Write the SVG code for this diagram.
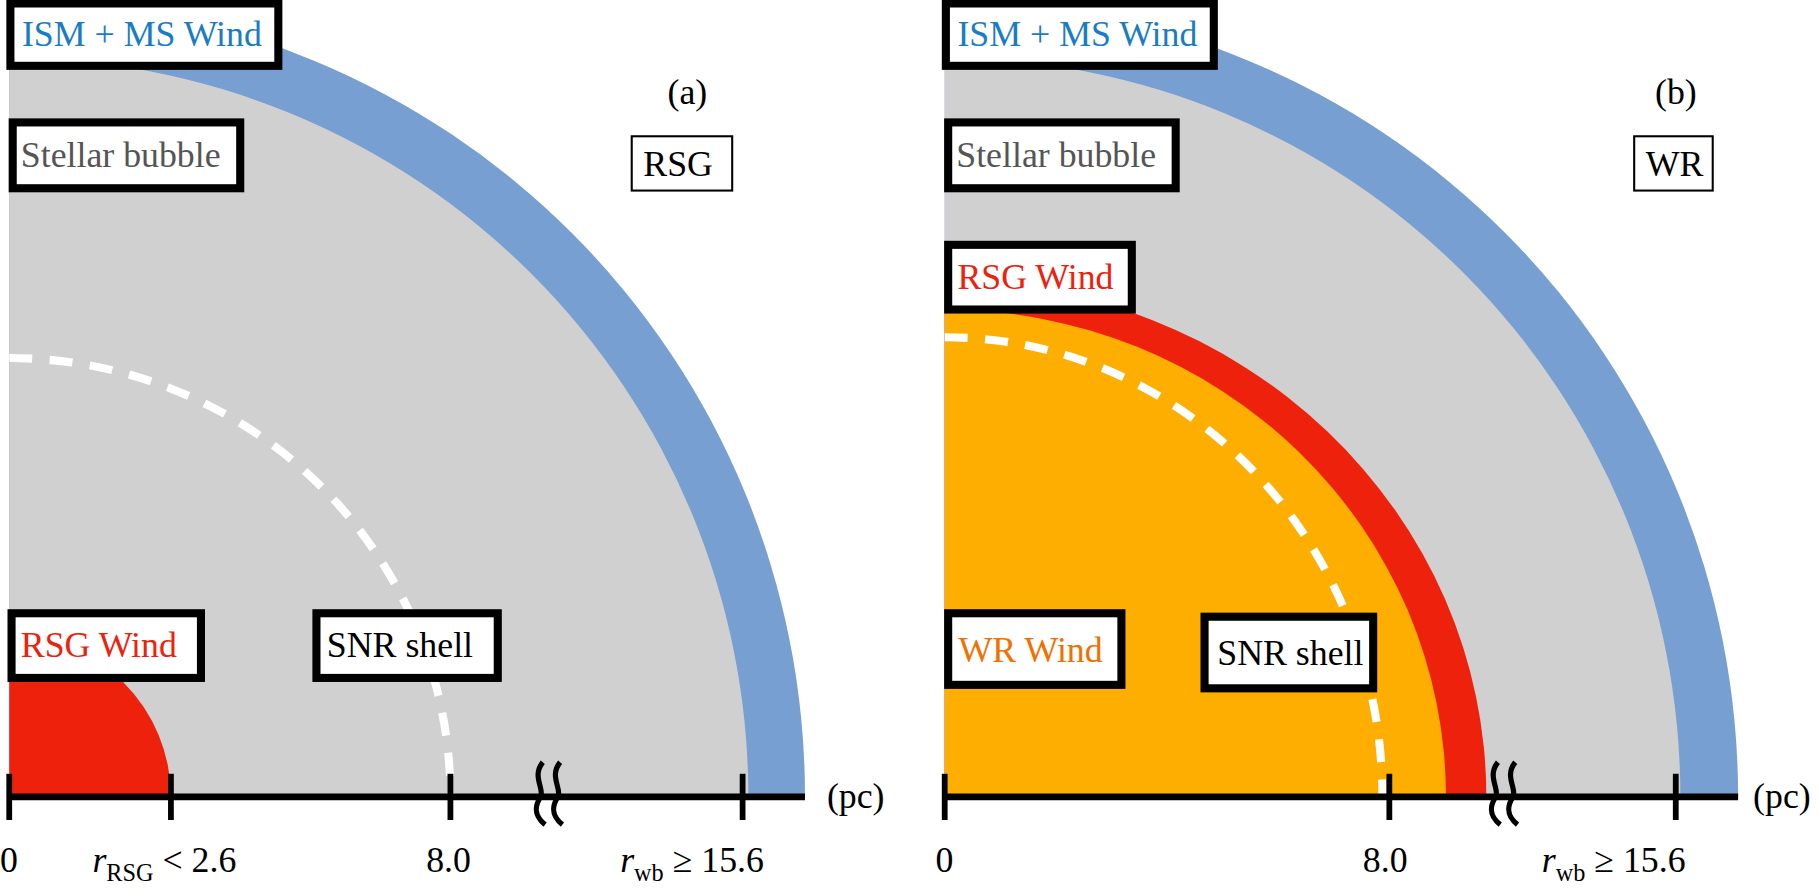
<svg xmlns="http://www.w3.org/2000/svg" width="1819" height="888" viewBox="0 0 1819 888">
<style>
text{font-family:"Liberation Serif",serif;font-size:31px;fill:#000}
.lb{fill:#fff;stroke:#000;stroke-width:7}
.thin{fill:#fff;stroke:#000;stroke-width:1.8}
.ax{stroke:#000;stroke-width:6;fill:none}
.tk{stroke:#000;stroke-width:5}
.dash{fill:none;stroke:#fff;stroke-width:7;stroke-dasharray:20 15}
.brk{fill:none;stroke:#000;stroke-width:4.5}
.sub{font-size:21px}
</style>
<rect width="1819" height="888" fill="#fff"/>
<g transform="scale(1.1549)">
<g id="panel-a">
<path d="M8 690 L8 0 A689 689 0 0 1 697 690 Z" fill="#779fd2"/>
<path d="M8 690 L8 50 A640 640 0 0 1 648 690 Z" fill="#d0d0d0"/>
<path d="M8 690 L8 550 A140 140 0 0 1 148 690 Z" fill="#ee210c"/>
<path class="dash" d="M8 310 A382 380 0 0 1 390 690"/>
</g>
<g id="panel-b">
<path d="M818 690 L818 0 A687 690 0 0 1 1505 690 Z" fill="#779fd2"/>
<path d="M818 690 L818 50 A637 640 0 0 1 1455 690 Z" fill="#d0d0d0"/>
<path d="M818 690 L818 243 A469 447 0 0 1 1287 690 Z" fill="#ee210c"/>
<path d="M818 690 L818 268 A434 422 0 0 1 1252 690 Z" fill="#fdae00"/>
<path class="dash" d="M818 292 A379 398 0 0 1 1197 690"/>
</g>
<g id="connectors">
<line class="ax" x1="8" y1="690" x2="697" y2="690"/>
<line class="tk" x1="8" y1="670" x2="8" y2="710"/>
<line class="tk" x1="148" y1="670" x2="148" y2="710"/>
<line class="tk" x1="390" y1="670" x2="390" y2="710"/>
<line class="tk" x1="643" y1="670" x2="643" y2="710"/>
<path class="brk" d="M470 660 C460 672 472 684 468 690 C463 698 462 706 472 714"/>
<path class="brk" d="M485 660 C475 672 487 684 483 690 C478 698 477 706 487 714"/>
<line class="ax" x1="818" y1="690" x2="1505" y2="690"/>
<line class="tk" x1="818" y1="670" x2="818" y2="710"/>
<line class="tk" x1="1203" y1="670" x2="1203" y2="710"/>
<line class="tk" x1="1451" y1="670" x2="1451" y2="710"/>
<path class="brk" d="M1297 660 C1287 672 1299 684 1295 690 C1290 698 1289 706 1299 714"/>
<path class="brk" d="M1312 660 C1302 672 1314 684 1310 690 C1305 698 1304 706 1314 714"/>
</g>
<g id="label-ism-a"><rect class="lb" x="9" y="3" width="232" height="54"/><text x="19" y="40" style="fill:#1a7cc4">ISM + MS Wind</text></g>
<g id="label-bubble-a"><rect class="lb" x="11" y="106" width="197" height="57"/><text x="18" y="145" style="fill:#555">Stellar bubble</text></g>
<g id="label-rsg-a"><rect class="thin" x="547" y="118" width="87" height="47"/><text x="557" y="152">RSG</text></g>
<text x="578" y="90">(a)</text>
<g id="label-rsgwind-a"><rect class="lb" x="10" y="531" width="164" height="56"/><text x="18" y="569" style="fill:#ee210c">RSG Wind</text></g>
<g id="label-snr-a"><rect class="lb" x="274" y="531" width="157" height="56"/><text x="283" y="569">SNR shell</text></g>
<g id="label-ism-b"><rect class="lb" x="819" y="3" width="232" height="54"/><text x="829" y="40" style="fill:#1a7cc4">ISM + MS Wind</text></g>
<g id="label-bubble-b"><rect class="lb" x="821" y="106" width="197" height="57"/><text x="828" y="145" style="fill:#555">Stellar bubble</text></g>
<g id="label-wr-b"><rect class="thin" x="1415" y="118" width="68" height="47"/><text x="1425" y="152">WR</text></g>
<text x="1433" y="90">(b)</text>
<g id="label-rsgwind-b"><rect class="lb" x="821" y="212" width="159" height="56"/><text x="829" y="250" style="fill:#ee210c">RSG Wind</text></g>
<g id="label-wrwind-b"><rect class="lb" x="821" y="531" width="150" height="62"/><text x="830" y="573" style="fill:#f36f00">WR Wind</text></g>
<g id="label-snr-b"><rect class="lb" x="1043" y="534" width="146" height="62"/><text x="1054" y="576">SNR shell</text></g>
<text x="0" y="755">0</text>
<text x="80" y="755"><tspan font-style="italic">r</tspan><tspan class="sub" dy="8">RSG</tspan><tspan dy="-8"> &lt; 2.6</tspan></text>
<text x="369" y="755">8.0</text>
<text x="537" y="755"><tspan font-style="italic">r</tspan><tspan class="sub" dy="8">wb</tspan><tspan dy="-8"> ≥ 15.6</tspan></text>
<text x="716" y="700">(pc)</text>
<text x="810" y="755">0</text>
<text x="1180" y="755">8.0</text>
<text x="1335" y="755"><tspan font-style="italic">r</tspan><tspan class="sub" dy="8">wb</tspan><tspan dy="-8"> ≥ 15.6</tspan></text>
<text x="1518" y="700">(pc)</text>
</g>
</svg>
